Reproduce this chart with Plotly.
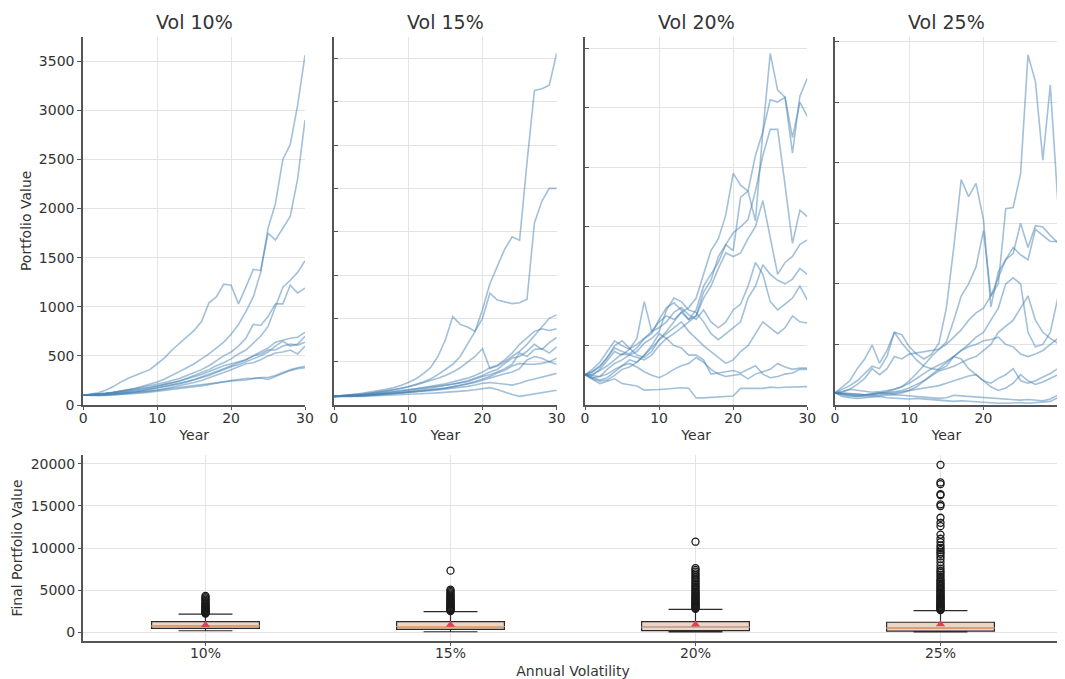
import plotly.graph_objects as go

# ---------------- data ----------------
years = list(range(31))
panel_titles = ["Vol 10%", "Vol 15%", "Vol 20%", "Vol 25%"]

paths_vol10 = [
    [100,110,125,150,185,230,270,300,330,360,420,480,560,630,700,760,850,1040,1100,1230,1220,1030,1200,1380,1370,1750,1680,1800,1920,2300,2900],
    [100,104,110,118,128,140,155,170,190,210,235,265,300,340,380,420,470,520,580,640,720,820,950,1100,1350,1800,2050,2500,2650,3050,3560],
    [100,103,108,115,122,130,140,150,160,175,190,205,225,245,270,300,330,360,400,430,470,520,560,630,700,800,1000,1200,1270,1350,1470],
    [100,105,112,120,130,140,152,165,180,195,210,230,250,270,300,330,360,400,450,500,540,600,680,820,810,900,1030,1030,1220,1140,1190],
    [100,102,106,110,116,122,130,140,150,160,175,190,205,220,240,260,285,310,340,370,400,430,460,500,540,580,640,660,680,690,740],
    [100,98,100,104,110,118,126,135,145,158,170,185,200,215,235,255,280,300,330,360,390,410,440,470,500,540,600,650,600,620,700],
    [100,104,110,118,126,136,146,156,168,180,195,210,225,245,265,285,310,340,370,400,420,440,460,500,520,560,560,600,620,610,640],
    [100,100,98,100,104,110,116,124,132,140,150,165,180,195,210,230,250,275,300,330,360,390,420,430,460,500,530,540,560,520,600],
    [100,100,102,105,110,115,120,128,136,144,150,160,170,180,190,200,210,220,230,240,245,250,255,270,280,280,300,330,360,380,395],
    [100,96,94,96,100,104,110,116,122,130,138,146,155,165,175,185,195,210,225,240,250,260,270,270,275,260,290,320,350,370,380],
]
paths_vol15 = [
    [100,105,112,120,128,138,150,160,175,190,210,235,265,300,350,410,470,560,700,850,1100,1400,1600,1800,1940,1900,2800,3630,3650,3690,4060],
    [100,106,115,125,138,150,165,180,200,225,260,300,360,430,560,750,1020,930,900,850,1000,1290,1210,1190,1170,1180,1220,2100,2350,2500,2500],
    [100,104,110,118,126,136,148,160,175,190,210,230,255,280,310,340,380,430,500,560,650,420,450,500,560,620,700,800,900,1000,1040],
    [100,103,108,114,120,128,136,145,155,165,175,188,200,215,230,245,265,285,310,340,380,430,460,520,600,700,780,850,880,860,880],
    [100,100,102,106,112,118,125,133,142,150,160,170,182,195,210,225,240,260,280,310,340,380,410,480,540,560,620,700,640,720,780],
    [100,102,106,110,116,122,130,140,150,162,175,185,195,205,215,225,240,255,270,300,330,350,380,420,470,600,560,640,650,600,670],
    [100,101,103,106,110,115,120,126,133,140,148,156,165,175,185,195,210,225,245,270,300,330,370,400,450,480,470,470,480,500,540],
    [100,99,100,102,106,110,116,122,130,138,146,155,164,174,184,195,210,225,240,260,285,310,340,360,380,420,520,560,540,500,470],
    [100,100,101,104,108,112,118,124,130,136,142,150,158,166,175,184,195,205,215,230,250,260,250,240,230,250,280,300,320,340,365],
    [100,98,97,98,100,103,106,110,114,118,122,126,130,135,140,145,150,158,166,175,190,200,180,150,120,100,115,130,140,155,170],
]
paths_vol20 = [
    [255,250,300,380,450,420,470,510,560,620,700,750,720,780,820,900,1100,1300,1400,1600,1950,1850,1800,1550,2300,2960,2650,2590,2120,2600,2750],
    [255,280,320,400,480,450,430,480,560,600,720,820,860,800,720,750,950,1050,1250,1350,1300,1750,1800,2100,2300,2570,2550,2590,2250,2550,2430],
    [255,230,210,230,280,330,380,360,420,480,550,620,700,780,720,800,1000,1100,1200,1350,1450,1500,1560,1800,2100,2320,2320,1850,1360,1640,1585],
    [255,260,290,330,380,430,420,400,380,420,500,560,600,650,700,750,900,1000,1150,1280,1250,1280,1400,1500,1720,1400,1100,1200,1250,1350,1390],
    [255,300,360,450,540,500,470,560,870,620,650,700,780,820,760,720,800,700,650,700,800,850,1000,1200,1100,870,800,850,900,1000,885],
    [255,280,330,400,500,540,480,420,400,450,550,600,650,700,620,560,500,450,400,350,380,450,500,600,700,650,600,650,750,700,690],
    [255,230,240,300,350,380,420,450,520,560,620,800,900,870,800,780,700,600,550,600,650,700,900,1000,1180,1100,1050,1020,1060,1150,1100],
    [255,250,240,260,300,330,350,320,280,250,230,260,300,330,350,400,360,300,260,240,250,260,220,260,280,300,350,320,300,310,310],
    [255,220,200,210,250,300,320,360,420,500,600,560,500,480,420,420,380,260,270,280,290,270,300,330,260,230,240,260,270,300,300],
    [255,220,180,200,220,180,170,160,125,125,130,135,140,145,140,60,60,65,70,70,75,140,140,145,140,150,145,150,150,155,155],
]
paths_vol25 = [
    [100,110,130,120,110,105,110,120,130,150,200,260,330,400,460,520,700,900,1000,1140,1440,900,1000,1620,1630,1910,2890,2670,2020,2640,1690],
    [100,150,200,300,380,495,345,450,600,580,480,420,380,420,510,800,1300,1860,1720,1830,1530,810,1100,1200,1300,1240,1200,1450,1400,1350,1350],
    [100,110,130,170,220,300,250,300,400,380,420,430,440,450,460,500,560,620,700,760,800,900,1050,1200,1250,1500,1300,1480,1470,1400,1340],
    [100,130,160,200,260,320,300,400,600,510,440,370,320,300,290,320,400,450,500,560,600,700,800,1000,1050,1000,600,480,500,600,880],
    [100,90,80,70,80,90,100,110,130,150,180,220,260,300,330,360,400,450,480,500,530,540,560,500,480,420,400,420,450,500,550],
    [100,100,95,90,85,90,95,100,110,120,140,170,200,240,280,300,320,350,380,400,450,500,600,650,700,800,900,700,600,550,510],
    [100,95,90,85,80,80,85,90,100,110,120,130,140,150,160,180,200,220,240,250,200,180,220,250,300,200,180,200,230,260,300],
    [100,80,70,75,80,90,100,95,90,100,120,150,200,250,300,350,400,380,300,250,200,150,120,140,180,250,200,170,190,220,250],
    [100,90,80,75,70,70,75,80,85,80,75,70,65,60,55,60,80,75,70,65,60,55,50,45,40,40,45,40,35,50,80],
    [100,70,60,55,60,65,70,60,55,50,50,55,50,45,40,35,30,35,30,25,20,20,15,15,20,20,15,20,25,30,60],
]
all_paths = [paths_vol10, paths_vol15, paths_vol20, paths_vol25]

box_cats = ["10%", "15%", "20%", "25%"]
box_q1 = [440, 320, 160, 110]
box_median = [720, 650, 560, 470]
box_q3 = [1230, 1230, 1230, 1160]
box_lowerfence = [150, 30, 10, 10]
box_upperfence = [2140, 2430, 2700, 2540]
box_mean = [840, 850, 880, 930]

outliers_10 = [2200,2250,2310,2380,2450,2520,2600,2680,2760,2850,2950,3050,3150,3280,3400,3550,3700,3850,4000,4150,4300]
outliers_15 = [2500,2570,2650,2730,2810,2900,2990,3080,3170,3270,3370,3480,3590,3700,3820,3940,4060,4190,4320,4450,4600,4750,4900,5050,7300]
outliers_20 = [2760,2840,2930,3020,3110,3210,3310,3410,3520,3630,3750,3870,3990,4110,4240,4370,4510,4650,4800,4950,5110,5270,5440,5610,5790,5970,6160,6360,6560,6760,6970,7190,7400,7600,10750]
outliers_25 = [2600,2680,2760,2850,2940,3030,3130,3230,3330,3440,3550,3660,3780,3900,4020,4150,4280,4410,4550,4690,4830,4980,5130,5290,5450,5610,5780,5950,6120,6300,6550,6800,7050,7260,7550,7900,8300,8690,9000,9300,9500,9750,10000,10300,10700,11100,11600,12600,13000,13600,15000,15200,16300,16400,17600,17800,19900]
all_outliers = [outliers_10, outliers_15, outliers_20, outliers_25]

# ---------------- layout config ----------------
# the page body adds an 8px offset, so the figure is 8px smaller and shifted
OFF = 8
W, H = 1065 - OFF, 679 - OFF
panel_ymax = [3750, 4250, 3100, 3040]
panel_px = [(83.3, 305.0), (334.0, 556.7), (585.0, 807.3), (835.0, 1057.7)]
top_py = (36.7, 405.0)
bot_px = (83.0, 1063.0)
bot_py = (455.0, 641.0)
title_py = 22

AXIS_COL = "#555555"
GRID_COL = "#e3e3e3"
TXT_COL = "#333333"
LINE_COL = "rgba(70,130,180,0.5)"

fig = go.Figure()

for p, paths in enumerate(all_paths):
    assert all(len(s) == len(years) for s in paths)
    xa = "x" if p == 0 else f"x{p+1}"
    ya = "y" if p == 0 else f"y{p+1}"
    for s in paths:
        fig.add_trace(go.Scatter(x=years, y=s, mode="lines",
                                 line=dict(color=LINE_COL, width=1.6),
                                 xaxis=xa, yaxis=ya, showlegend=False,
                                 hoverinfo="skip"))

# bottom box plot
for i, cat in enumerate(box_cats):
    fig.add_trace(go.Box(x=[cat], q1=[box_q1[i]], median=[box_median[i]], q3=[box_q3[i]],
                         lowerfence=[box_lowerfence[i]], upperfence=[box_upperfence[i]],
                         boxpoints=False, fillcolor="#edd5c6",
                         line=dict(color="#2b2b2b", width=1.2),
                         width=0.44, whiskerwidth=0.5,
                         xaxis="x5", yaxis="y5", showlegend=False))
    # median line (degenerate box)
    fig.add_trace(go.Box(x=[cat], q1=[box_median[i]], median=[box_median[i]], q3=[box_median[i]],
                         lowerfence=[box_median[i]], upperfence=[box_median[i]],
                         boxpoints=False, fillcolor="rgba(0,0,0,0)",
                         line=dict(color="#e7a77c", width=1),
                         width=0.44, whiskerwidth=0,
                         xaxis="x5", yaxis="y5", showlegend=False))
    outs = all_outliers[i]
    fig.add_trace(go.Scatter(x=[cat] * len(outs), y=outs, mode="markers",
                             marker=dict(symbol="circle-open", size=7, color="#1a1a1a",
                                         line=dict(width=1.3, color="#1a1a1a")),
                             xaxis="x5", yaxis="y5", showlegend=False))

fig.add_trace(go.Scatter(x=box_cats, y=box_mean, mode="markers",
                         marker=dict(symbol="triangle-up", size=8, color="#e0404f"),
                         xaxis="x5", yaxis="y5", showlegend=False))

def fx(px):
    return (px - OFF) / W

def fy(py):
    return 1 - (py - OFF) / H

layout = dict(
    width=W, height=H,
    margin=dict(l=0, r=0, t=0, b=0, autoexpand=False),
    paper_bgcolor="white", plot_bgcolor="white",
    font=dict(family="DejaVu Sans", size=14, color=TXT_COL),
    showlegend=False,
    boxmode="overlay",
)

for p in range(4):
    xk = "xaxis" if p == 0 else f"xaxis{p+1}"
    yk = "yaxis" if p == 0 else f"yaxis{p+1}"
    xa_anchor = "y" if p == 0 else f"y{p+1}"
    ya_anchor = "x" if p == 0 else f"x{p+1}"
    layout[xk] = dict(domain=[fx(panel_px[p][0]), fx(panel_px[p][1])], anchor=xa_anchor,
                      range=[0, 30], tickvals=[0, 10, 20, 30], showgrid=True,
                      gridcolor=GRID_COL, gridwidth=1, zeroline=False, automargin=False,
                      showline=True, linecolor=AXIS_COL, linewidth=2,
                      ticks="outside", ticklen=3, tickcolor=AXIS_COL, ticklabelstandoff=-4,
                      tickfont=dict(size=14, color=TXT_COL),
                      title=dict(text="Year", font=dict(size=14, color=TXT_COL), standoff=5))
    layout[yk] = dict(domain=[fy(top_py[1]), fy(top_py[0])], anchor=ya_anchor,
                      range=[0, panel_ymax[p]], dtick=500, tick0=0, tickformat="d",
                      showgrid=True, gridcolor=GRID_COL, gridwidth=1, zeroline=False,
                      automargin=False,
                      showline=True, linecolor=AXIS_COL, linewidth=2,
                      ticks="outside" if p == 0 else "inside", ticklen=4, tickcolor=AXIS_COL,
                      showticklabels=(p == 0),
                      tickfont=dict(size=14, color=TXT_COL))
    if p == 0:
        layout[yk]["title"] = dict(text="Portfolio Value", font=dict(size=14, color=TXT_COL), standoff=4)

layout["xaxis5"] = dict(domain=[fx(bot_px[0]), min(1.0, fx(bot_px[1]))], anchor="y5",
                        type="category", categoryorder="array", categoryarray=box_cats,
                        range=[-0.5, 3.5], showgrid=True, gridcolor=GRID_COL, zeroline=False,
                        automargin=False,
                        showline=True, linecolor=AXIS_COL, linewidth=2,
                        ticks="outside", ticklen=3, tickcolor=AXIS_COL, ticklabelstandoff=-5,
                        tickfont=dict(size=14, color=TXT_COL),
                        title=dict(text="Annual Volatility", font=dict(size=14, color=TXT_COL), standoff=6))
layout["yaxis5"] = dict(domain=[fy(bot_py[1]), fy(bot_py[0])], anchor="x5",
                        range=[-1070, 21070], tickvals=[0, 5000, 10000, 15000, 20000], tickformat="d",
                        showgrid=True, gridcolor=GRID_COL, zeroline=False, automargin=False,
                        showline=True, linecolor=AXIS_COL, linewidth=2,
                        ticks="outside", ticklen=3, tickcolor=AXIS_COL,
                        tickfont=dict(size=14, color=TXT_COL),
                        title=dict(text="Final Portfolio Value", font=dict(size=14, color=TXT_COL), standoff=5))

annotations = []
for p, t in enumerate(panel_titles):
    annotations.append(dict(text=t, x=fx((panel_px[p][0] + panel_px[p][1]) / 2), y=fy(title_py),
                            xref="paper", yref="paper", xanchor="center", yanchor="middle",
                            showarrow=False, font=dict(size=19, color=TXT_COL)))
layout["annotations"] = annotations

fig.update_layout(**layout)
fig.write_html("out.html")
